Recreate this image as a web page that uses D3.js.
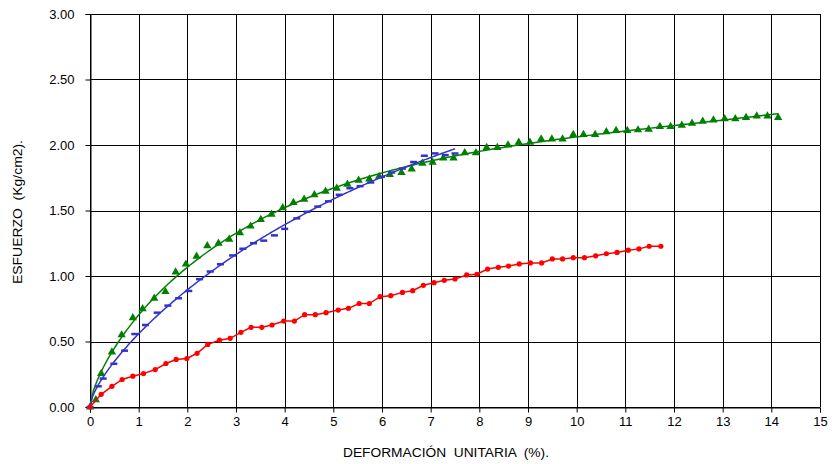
<!DOCTYPE html>
<html>
<head>
<meta charset="utf-8">
<script src="https://cdn.jsdelivr.net/npm/d3@7"></script>
<style>
  html, body { margin: 0; padding: 0; background: #fff; }
  svg { display: block; font-family: "Liberation Sans", Arial, sans-serif; }
  .title { white-space: pre; }
</style>
</head>
<body>
<svg id="chart" width="832" height="464"></svg>
<script>
// Stress–strain readings for three specimens (strain in %, stress in Kg/cm2)
const strainGreen = [0, 0.12, 0.23, 0.45, 0.65, 0.88, 1.08, 1.32, 1.55, 1.76, 1.97, 2.19, 2.41, 2.64, 2.86, 3.08, 3.30, 3.51, 3.73, 3.96, 4.18, 4.40, 4.61, 4.84, 5.07, 5.29, 5.52, 5.74, 5.94, 6.16, 6.40, 6.61, 6.83, 7.04, 7.26, 7.47, 7.70, 7.93, 8.15, 8.37, 8.59, 8.81, 9.04, 9.27, 9.49, 9.71, 9.93, 10.14, 10.38, 10.61, 10.81, 11.04, 11.26, 11.48, 11.71, 11.93, 12.16, 12.37, 12.59, 12.81, 13.04, 13.26, 13.48, 13.70, 13.92, 14.14];
const stressGreen = [0, 0.055, 0.255, 0.42, 0.55, 0.68, 0.75, 0.83, 0.88, 1.03, 1.09, 1.15, 1.23, 1.25, 1.28, 1.33, 1.38, 1.43, 1.47, 1.52, 1.56, 1.585, 1.62, 1.647, 1.67, 1.70, 1.73, 1.74, 1.76, 1.775, 1.79, 1.816, 1.86, 1.867, 1.90, 1.90, 1.94, 1.94, 1.98, 1.98, 2.00, 2.02, 2.02, 2.046, 2.046, 2.046, 2.08, 2.08, 2.08, 2.10, 2.11, 2.11, 2.115, 2.12, 2.14, 2.14, 2.15, 2.165, 2.18, 2.19, 2.20, 2.20, 2.21, 2.22, 2.22, 2.21];

const strainBlue = [0, 0.17, 0.27, 0.49, 0.71, 0.92, 1.14, 1.38, 1.60, 1.82, 2.03, 2.25, 2.47, 2.68, 2.93, 3.14, 3.36, 3.57, 3.79, 4.00, 4.25, 4.46, 4.68, 4.90, 5.12, 5.34, 5.55, 5.77, 5.99, 6.20, 6.42, 6.65, 6.87, 7.09, 7.30, 7.50];
const stressBlue = [0, 0.158, 0.217, 0.33, 0.43, 0.557, 0.626, 0.72, 0.774, 0.83, 0.886, 0.976, 1.034, 1.09, 1.157, 1.208, 1.25, 1.27, 1.31, 1.36, 1.44, 1.49, 1.53, 1.57, 1.62, 1.67, 1.686, 1.714, 1.757, 1.79, 1.82, 1.87, 1.918, 1.936, 1.923, 1.935];

const strainRed = [0, 0.23, 0.45, 0.66, 0.88, 1.10, 1.34, 1.56, 1.77, 1.99, 2.20, 2.42, 2.66, 2.88, 3.10, 3.31, 3.53, 3.74, 3.98, 4.20, 4.41, 4.63, 4.85, 5.10, 5.31, 5.53, 5.74, 5.96, 6.18, 6.42, 6.63, 6.85, 7.07, 7.28, 7.50, 7.74, 7.95, 8.17, 8.39, 8.60, 8.82, 9.05, 9.28, 9.50, 9.71, 9.93, 10.16, 10.39, 10.61, 10.83, 11.06, 11.28, 11.49, 11.73];
const stressRed = [0, 0.097, 0.158, 0.21, 0.235, 0.255, 0.286, 0.332, 0.363, 0.37, 0.41, 0.478, 0.51, 0.524, 0.57, 0.608, 0.608, 0.626, 0.656, 0.656, 0.705, 0.705, 0.72, 0.74, 0.753, 0.79, 0.79, 0.842, 0.85, 0.875, 0.888, 0.929, 0.949, 0.967, 0.977, 1.008, 1.013, 1.053, 1.066, 1.076, 1.092, 1.10, 1.10, 1.13, 1.13, 1.14, 1.14, 1.154, 1.17, 1.18, 1.197, 1.207, 1.227, 1.227];

const xTicks = d3.range(0, 16, 1);
const yTicks = [0, 0.5, 1.0, 1.5, 2.0, 2.5, 3.0];
const xTitle = "DEFORMACIÓN  UNITARIA  (%).";
const yTitle = "ESFUERZO  (Kg/cm2).";

const W = 832, H = 464;
const margin = { top: 14, right: 12, bottom: 57, left: 90 };
const svg = d3.select("#chart");

const x = d3.scaleLinear().domain([0, 15]).range([margin.left, W - margin.right]);
const y = d3.scaleLinear().domain([0, 3]).range([H - margin.bottom, margin.top]);

const zip = (xs, ys) => xs.map((v, i) => ({ x: v, y: ys[i] }));
const green = zip(strainGreen, stressGreen);
const blue = zip(strainBlue, stressBlue);
const red = zip(strainRed, stressRed);

// Least-squares trend through the origin, basis: sqrt(x), x, x^1.5, x^2
function fitTrend(pts) {
  const basis = [v => Math.sqrt(v), v => v, v => Math.pow(v, 1.5), v => v * v];
  const n = basis.length;
  const A = Array.from({ length: n }, () => new Array(n + 1).fill(0));
  pts.forEach(p => {
    const f = basis.map(b => b(p.x));
    for (let i = 0; i < n; i++) {
      for (let j = 0; j < n; j++) A[i][j] += f[i] * f[j];
      A[i][n] += f[i] * p.y;
    }
  });
  for (let c = 0; c < n; c++) {
    let piv = c;
    for (let r = c + 1; r < n; r++) if (Math.abs(A[r][c]) > Math.abs(A[piv][c])) piv = r;
    [A[c], A[piv]] = [A[piv], A[c]];
    for (let r = 0; r < n; r++) {
      if (r === c) continue;
      const k = A[r][c] / A[c][c];
      for (let j = c; j <= n; j++) A[r][j] -= k * A[c][j];
    }
  }
  const coef = A.map((row, i) => row[n] / row[i]);
  const xMax = d3.max(pts, p => p.x);
  return d3.range(0, 201).map(i => {
    const v = xMax * i / 200;
    return { x: v, y: basis.reduce((s, b, k) => s + coef[k] * b(v), 0) };
  });
}

// Grid
const grid = svg.append("g");
grid.selectAll("line.v").data(xTicks).join("line")
  .attr("x1", d => Math.round(x(d)) + 0.5).attr("x2", d => Math.round(x(d)) + 0.5)
  .attr("y1", y(3)).attr("y2", y(0))
  .attr("stroke", "#000").attr("stroke-width", 1);
grid.selectAll("line.h").data(yTicks).join("line")
  .attr("x1", x(0)).attr("x2", x(15))
  .attr("y1", d => Math.round(y(d)) + 0.5).attr("y2", d => Math.round(y(d)) + 0.5)
  .attr("stroke", "#000").attr("stroke-width", 1);

// Axes
const xAxis = d3.axisBottom(x).tickValues(xTicks).tickFormat(d3.format("d")).tickSize(5).tickPadding(4);
const yAxis = d3.axisLeft(y).tickValues(yTicks).tickFormat(d3.format(".2f")).tickSize(5).tickPadding(11);

const gx = svg.append("g").attr("transform", `translate(0,${Math.round(y(0)) + 0.5})`).call(xAxis);
const gy = svg.append("g").attr("transform", `translate(${Math.round(x(0)) + 0.5},0)`).call(yAxis);
[gx, gy].forEach(g => {
  g.select(".domain").attr("stroke", "#000");
  g.selectAll(".tick line").attr("stroke", "#000");
  g.selectAll(".tick text").attr("fill", "#000").style("font-size", "13px")
    .style("font-family", "'Liberation Sans', Arial, sans-serif");
});

// Axis titles
svg.append("text").attr("class", "title").attr("x", 446).attr("y", 457).attr("text-anchor", "middle")
  .style("font-size", "12.5px").attr("fill", "#000")
  .attr("textLength", 206).attr("lengthAdjust", "spacingAndGlyphs")
  .text(xTitle);
svg.append("text").attr("class", "title").attr("transform", "translate(22,212) rotate(-90)").attr("text-anchor", "middle")
  .style("font-size", "12.5px").attr("fill", "#000")
  .attr("textLength", 144).attr("lengthAdjust", "spacingAndGlyphs")
  .text(yTitle);

const line = d3.line().x(d => x(d.x)).y(d => y(d.y));
const plot = svg.append("g");

// Green specimen: trend line + triangles
plot.append("path").datum(fitTrend(green)).attr("d", line)
  .attr("fill", "none").attr("stroke", "#008000").attr("stroke-width", 1.5);
plot.append("g").selectAll("path").data(green).join("path")
  .attr("d", d3.symbol(d3.symbolTriangle, 30))
  .attr("transform", d => `translate(${x(d.x)},${y(d.y)})`)
  .attr("fill", "#008000");

// Blue specimen: trend line + dash markers
plot.append("path").datum(fitTrend(blue)).attr("d", line)
  .attr("fill", "none").attr("stroke", "#3333cc").attr("stroke-width", 1.5);
plot.append("g").selectAll("rect").data(blue).join("rect")
  .attr("x", d => x(d.x) - 3.5).attr("y", d => y(d.y) - 1.25)
  .attr("width", 7).attr("height", 2.5)
  .attr("fill", "#3333cc");

// Red specimen: polyline + dots
plot.append("path").datum(red).attr("d", line)
  .attr("fill", "none").attr("stroke", "#ff0000").attr("stroke-width", 1.5);
plot.append("g").selectAll("circle").data(red).join("circle")
  .attr("cx", d => x(d.x)).attr("cy", d => y(d.y)).attr("r", 2.6)
  .attr("fill", "#ff0000");
</script>
</body>
</html>
